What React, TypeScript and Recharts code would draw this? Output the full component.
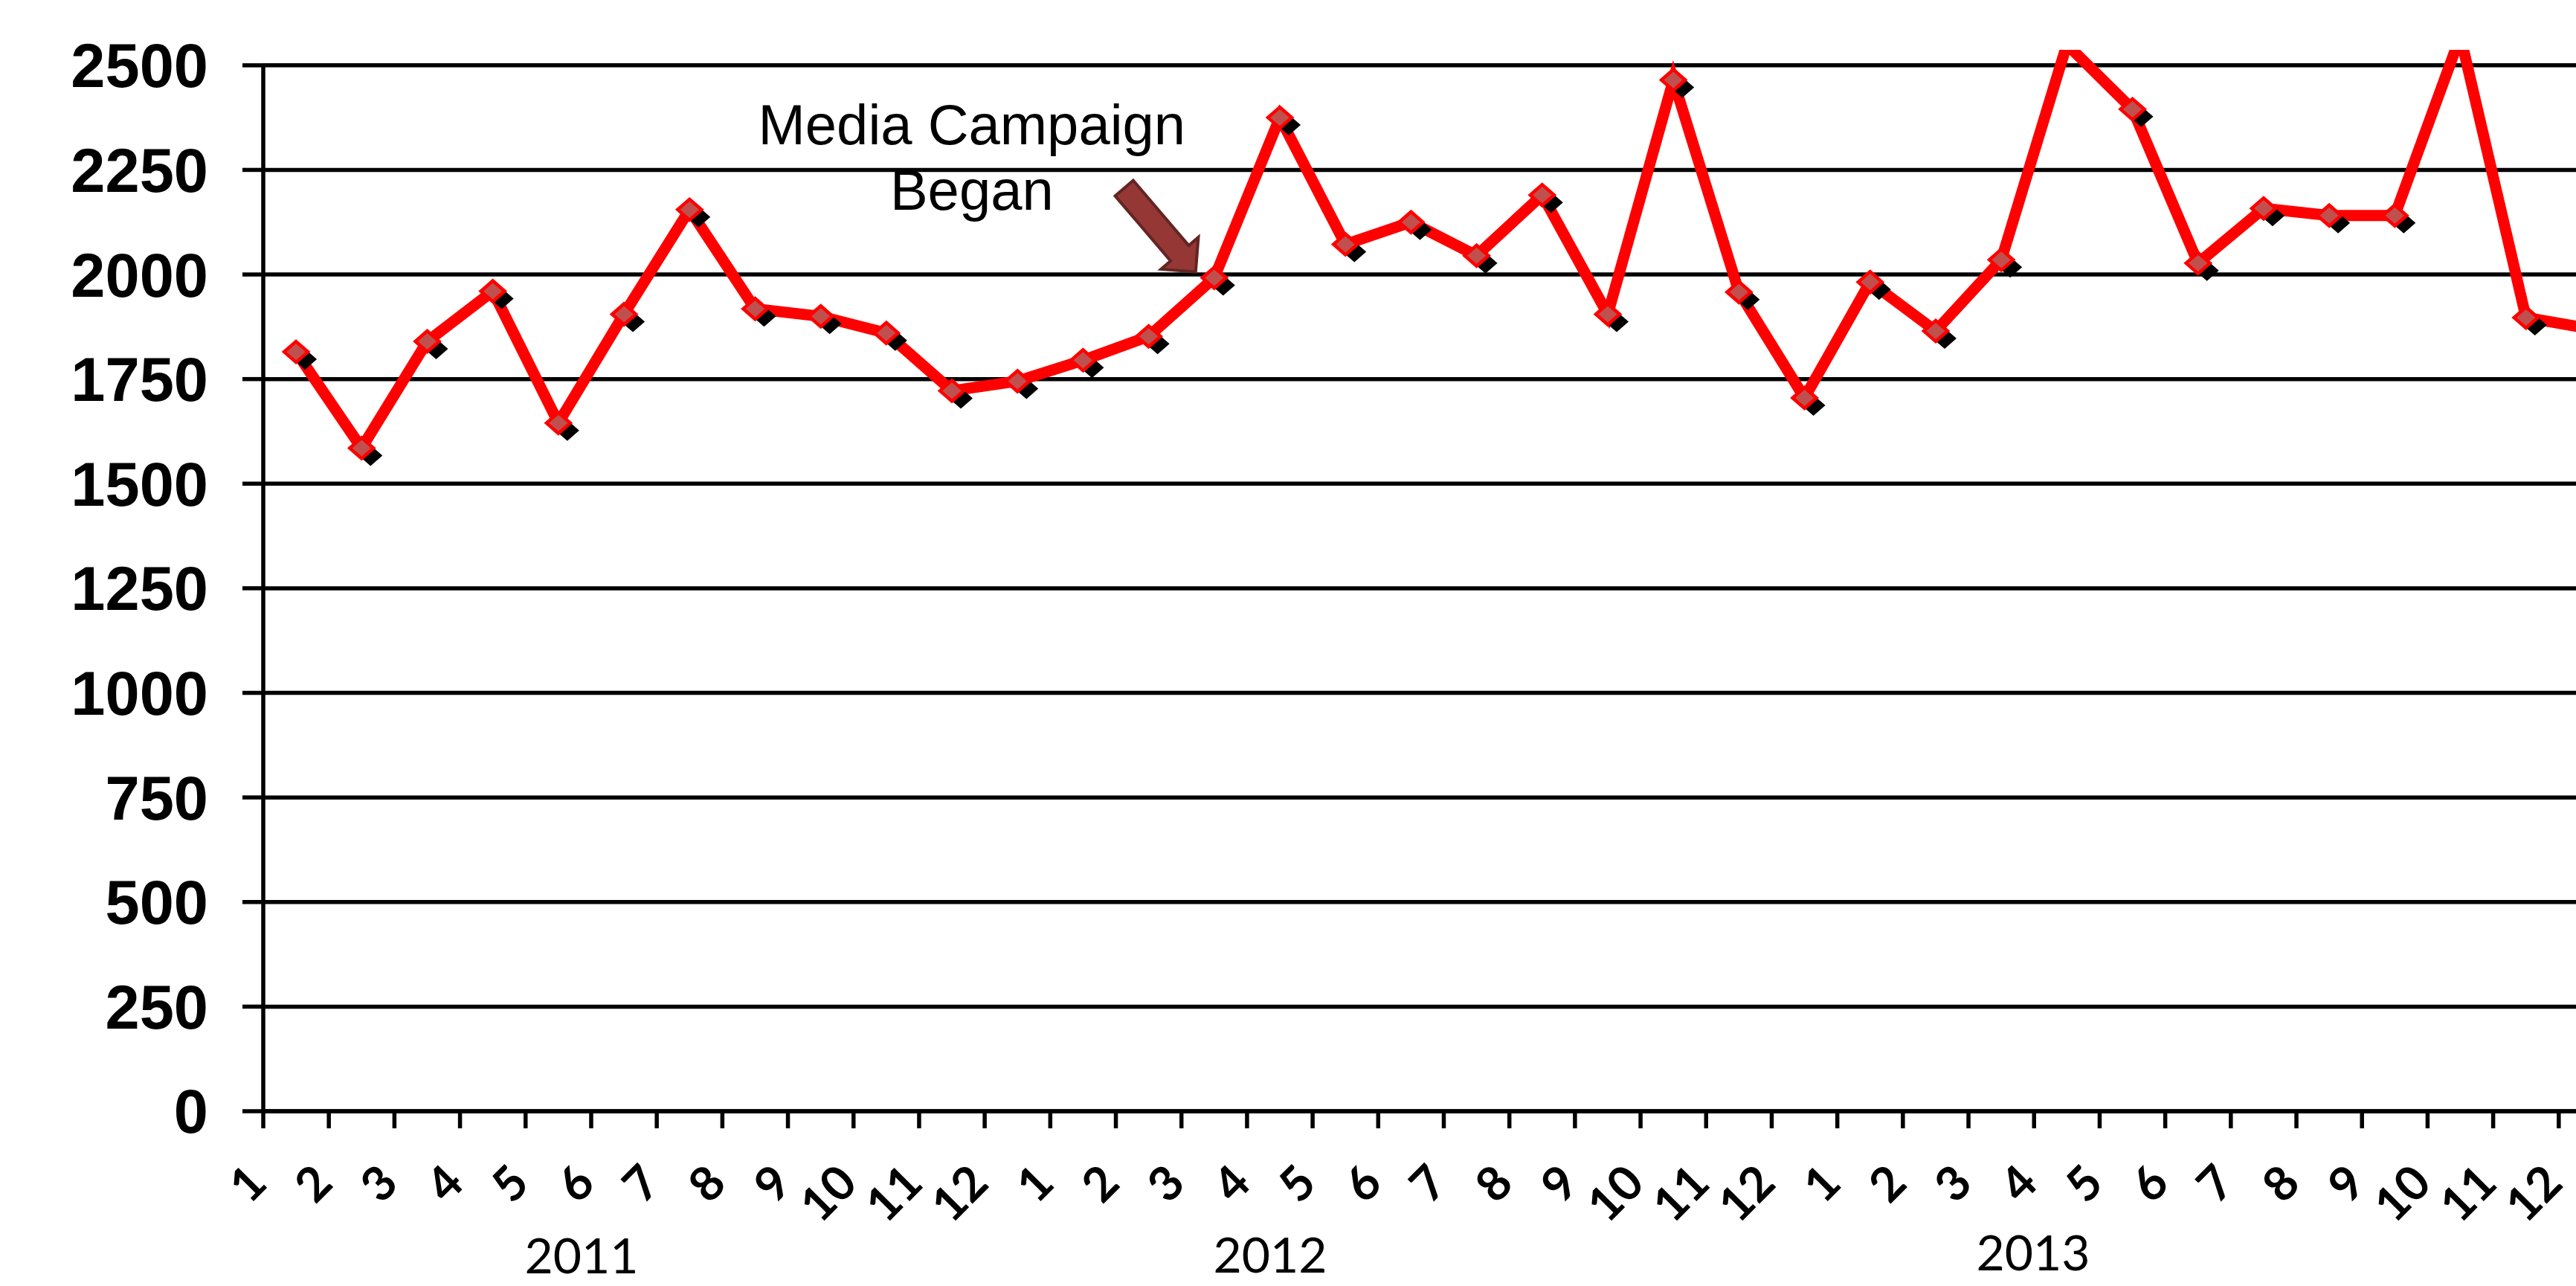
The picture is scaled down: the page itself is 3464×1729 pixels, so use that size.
import { LineChart, Line, XAxis, YAxis, ReferenceLine, ReferenceDot } from 'recharts'

// monthly counts
const values2011 = [1815, 1585, 1840, 1960, 1645, 1905, 2155, 1918, 1900, 1860, 1722, 1745]
const values2012 = [1795, 1852, 1992, 2375, 2072, 2125, 2045, 2190, 1905, 2465, 1958, 1705]
const values2013 = [1982, 1865, 2035, 2550, 2395, 2027, 2158, 2141, 2141, 2570, 1897, 1870]
const years = ['2011', '2012', '2013']
const monthLabels = ['1', '2', '3', '4', '5', '6', '7', '8', '9', '10', '11', '12']
const yTicks = [0, 250, 500, 750, 1000, 1250, 1500, 1750, 2000, 2250, 2500]
const campaignMonth = '2012-3'
const campaignValue = 1992

const seriesByYear = [values2011, values2012, values2013]
const data = years.flatMap((year, yi) =>
  seriesByYear[yi].map((value, mi) => ({ key: `${year}-${monthLabels[mi]}`, month: monthLabels[mi], value })),
)

const PAGE_W = 3464
const PAGE_H = 1729
const CHART_W = 3529
const Y_AXIS_W = 354
const PLOT_TOP = 67
const X_AXIS_H = 235
const BAND = (CHART_W - Y_AXIS_W) / data.length
const HALF = BAND / 2
const AXIS_MAX = 2500
const LINE_W = 5.5

// year captions sit under the month labels (x centre, baseline)
const yearPos = [
  [782, 1712],
  [1708, 1711],
  [2734, 1708],
]

function MonthTick(props: any) {
  const { x, y, payload, index } = props
  const item = data[index] ?? data.find((d) => d.key === payload.value)
  const lx = x - 36
  const ly = y + 100
  return (
    <g>
      <line x1={x - HALF} y1={y} x2={x - HALF} y2={y + 23} stroke="#000" strokeWidth={LINE_W} />
      {index === data.length - 1 && (
        <line x1={x + HALF} y1={y} x2={x + HALF} y2={y + 23} stroke="#000" strokeWidth={LINE_W} />
      )}
      <text
        x={lx}
        y={ly}
        textAnchor="end"
        transform={`rotate(-45, ${lx}, ${ly})`}
        fontFamily="Lato, 'Open Sans', sans-serif"
        fontWeight={700}
        fontSize={64}
        fill="#000"
      >
        {item ? item.month : ''}
      </text>
    </g>
  )
}

function DiamondDot(props: any) {
  const { cx, cy, value, index } = props
  if (cx == null || cy == null || value > AXIS_MAX) return <g key={`dot-${index}`} />
  const hw = 16
  const hh = 14
  const pts = (dx: number, dy: number) =>
    `${cx + dx},${cy + dy - hh} ${cx + dx + hw},${cy + dy} ${cx + dx},${cy + dy + hh} ${cx + dx - hw},${cy + dy}`
  return (
    <g key={`dot-${index}`}>
      <polygon points={pts(12, 10)} fill="#000" />
      <polygon points={pts(0, 0)} fill="#C0504D" stroke="#FF0000" strokeWidth={4.5} />
    </g>
  )
}

function CampaignNote(props: any) {
  const { cx, cy } = props
  if (cx == null || cy == null) return <g />
  const tipX = cx - 25
  const tipY = cy - 8
  const arrow = '0,0 -33,-33 -33,-16 -148,-16 -148,16 -33,16 -33,33'
  return (
    <g>
      <polygon
        points={arrow}
        transform={`translate(${tipX}, ${tipY}) rotate(49.5)`}
        fill="#953735"
        stroke="#632523"
        strokeWidth={4}
        strokeLinejoin="miter"
      />
      <text x={cx - 326} y={cy - 180} textAnchor="middle" fontFamily="'Liberation Sans', Arial, sans-serif" fontSize={76} fill="#000">
        Media Campaign
      </text>
      <text x={cx - 326} y={cy - 92} textAnchor="middle" fontFamily="'Liberation Sans', Arial, sans-serif" fontSize={76} fill="#000">
        Began
      </text>
    </g>
  )
}

export default function App() {
  return (
    <div
      style={{
        position: 'fixed',
        left: 0,
        top: 0,
        width: PAGE_W,
        height: PAGE_H,
        overflow: 'hidden',
        background: '#fff',
      }}
    >
      <LineChart
        width={CHART_W}
        height={PAGE_H}
        data={data}
        margin={{ top: PLOT_TOP, right: 0, bottom: 0, left: 0 }}
      >
        <XAxis
          dataKey="key"
          height={X_AXIS_H}
          interval={0}
          padding={{ left: HALF, right: HALF }}
          axisLine={{ stroke: '#000', strokeWidth: LINE_W }}
          tickLine={false}
          tickSize={0}
          tickMargin={0}
          tick={(p: any) => <MonthTick {...p} />}
        />
        <YAxis
          width={Y_AXIS_W}
          domain={[0, 2537]}
          ticks={yTicks}
          allowDataOverflow
          axisLine={false}
          tickLine={{ stroke: '#000', strokeWidth: LINE_W }}
          tickSize={28}
          tickMargin={46}
          tick={{
            fill: '#000',
            fontSize: 83,
            fontWeight: 700,
            fontFamily: "'Liberation Sans', Arial, sans-serif",
          }}
        />
        {yTicks.map((v) => (
          <ReferenceLine key={`grid-${v}`} y={v} stroke="#000" strokeWidth={LINE_W} />
        ))}
        <ReferenceLine
          segment={[
            { x: data[0].key, y: 0 },
            { x: data[0].key, y: AXIS_MAX },
          ]}
          shape={(p: any) => (
            <line x1={p.x1 - HALF} y1={p.y1} x2={p.x2 - HALF} y2={p.y2} stroke="#000" strokeWidth={LINE_W} />
          )}
        />
        <Line
          type="linear"
          dataKey="value"
          stroke="#FF0000"
          strokeWidth={15}
          dot={(p: any) => <DiamondDot key={`d-${p.index}`} {...p} />}
          activeDot={false}
          isAnimationActive={false}
        />
        <ReferenceDot x={campaignMonth} y={campaignValue} ifOverflow="visible" shape={(p: any) => <CampaignNote {...p} />} />
      </LineChart>
      <svg width={PAGE_W} height={PAGE_H} style={{ position: 'absolute', left: 0, top: 0, pointerEvents: 'none' }}>
        {years.map((year, i) => (
          <text
            key={year}
            x={yearPos[i][0]}
            y={yearPos[i][1]}
            textAnchor="middle"
            fontFamily="Lato, 'Open Sans', sans-serif"
            fontSize={66}
            fill="#000"
          >
            {year}
          </text>
        ))}
      </svg>
    </div>
  )
}
